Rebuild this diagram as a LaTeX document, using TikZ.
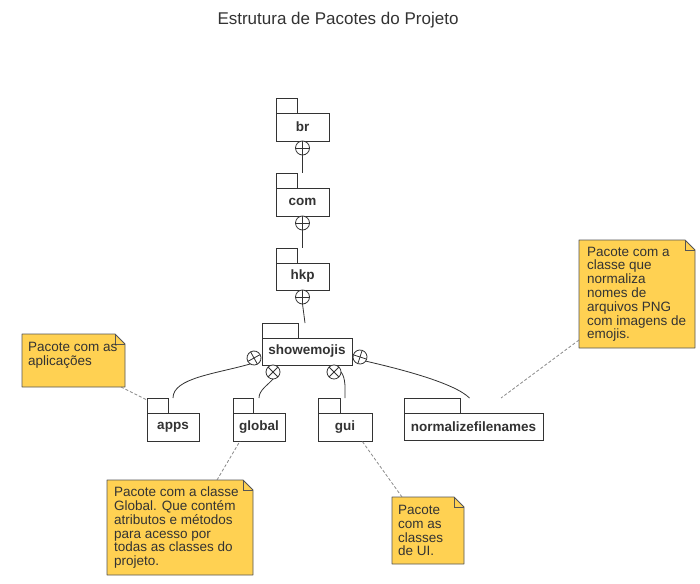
\documentclass[tikz,border=0pt]{standalone}
\usepackage{fontspec}
\setmainfont{Liberation Sans}
\definecolor{pkgc}{HTML}{333333}
\definecolor{txt}{HTML}{333333}
\definecolor{noteY}{HTML}{FFD152}
\definecolor{noteB}{HTML}{555555}
\definecolor{dashc}{HTML}{888888}
\tikzset{
  pkgbody/.style={draw=pkgc, line width=0.8pt, fill=white, inner sep=0pt, outer sep=0pt, text=txt,
    font=\fontsize{13.5}{14}\selectfont\bfseries},
  pkgline/.style={draw=pkgc, line width=0.8pt},
  conn/.style={draw=pkgc, line width=0.8pt},
  circ/.style={circle, draw=pkgc, line width=0.8pt, fill=white, minimum size=14pt, inner sep=0pt, outer sep=0pt},
  notearea/.style={draw=none, inner sep=0pt, outer sep=0pt},
  notebg/.style={fill=noteY, draw=noteB, line width=0.9pt, line join=round},
  notefold/.style={draw=noteB, line width=0.8pt},
  notetext/.style={anchor=north west, inner sep=0pt, align=left, text=txt,
    font=\fontsize{13.5}{13.8}\selectfont},
  notelink/.style={draw=dashc, line width=0.8pt, dash pattern=on 3pt off 2pt},
  titlestyle/.style={text=txt, font=\fontsize{17}{20}\selectfont, inner sep=0pt}
}
\newcommand\mkpkg[7]{%
  \node[pkgbody, minimum width=#4pt, minimum height=#5pt] (#1) at (#2,#3) {#7};
  \draw[pkgline] (#1.north west) -- ([yshift=15pt]#1.north west) -- ([xshift=#6pt, yshift=15pt]#1.north west) -- ([xshift=#6pt]#1.north west);
  \coordinate (#1-top) at ([yshift=15pt]#1.north);
}
\newcommand\mknote[8]{%
  \node[notearea, minimum width=#4pt, minimum height=#5pt, anchor=north west] (#1) at (#2,#3) {};
  \filldraw[notebg] (#1.north west) -- ([xshift=-10pt]#1.north east) -- ([yshift=-10pt]#1.north east)
     -- (#1.south east) -- (#1.south west) -- cycle;
  \draw[notefold] ([xshift=-10pt]#1.north east) -- ([xshift=-10pt,yshift=-10pt]#1.north east)
     -- ([yshift=-10pt]#1.north east);
  \node[notetext] (#1-t) at ([xshift=#6pt, yshift=-#7pt]#1.north west) {#8};
}
\newcommand\mkcirc[3]{% name, position, rotation
  \node[circ, rotate=#3] (#1) at (#2) {};
  \draw[pkgline] (#1.north) -- (#1.south) (#1.east) -- (#1.west);
}
\begin{document}
\begin{tikzpicture}[x=1pt, y=-1pt]
\useasboundingbox (0,0) rectangle (700,583);
\fill[white] (0,0) rectangle (700,583);

\node[titlestyle] (title) at (338,20) {Estrutura de Pacotes do Projeto};

% packages
\mkpkg{br}{302.5}{127}{53}{28}{21}{br}
\mkpkg{com}{302.5}{202}{53}{28}{21}{com}
\mkpkg{hkp}{302.5}{276.5}{53}{27}{21}{hkp}
\mkpkg{sh}{307}{351.5}{90}{27}{36}{showemojis}
\mkpkg{apps}{173}{427}{52}{28}{21}{apps}
\mkpkg{global}{259}{427}{52}{28}{20}{global}
\mkpkg{gui}{345}{427}{54}{28}{22}{gui}
\mkpkg{nf}{473.5}{426.5}{139}{27}{56}{normalizefilenames}

% containment circles
\mkcirc{c1}{[yshift=-7pt]br.south}{0}
\mkcirc{c2}{[yshift=-7pt]com.south}{0}
\mkcirc{c3}{[yshift=-7pt]hkp.south}{0}
\mkcirc{sL}{[xshift=-8pt,yshift=-6.5pt]sh.west}{29}
\mkcirc{sR}{[xshift=8pt,yshift=-5.5pt]sh.east}{-18}
\mkcirc{sLL}{[xshift=11pt,yshift=-7pt]sh.south west}{45}
\mkcirc{sLR}{[xshift=-18pt,yshift=-7pt]sh.south east}{45}

% connectors
\draw[conn] (c1.south) -- (c1.south |- com-top);
\draw[conn] (c2.south) -- (c2.south |- hkp-top);
\draw[conn] (c3.south) -- ([xshift=-2pt]sh-top);
\draw[conn] (sL.209) .. controls +(-35,10) and +(0,-20) .. (apps-top);
\draw[conn] (sLL.225) .. controls +(-5,6) and +(0,-8) .. (global-top);
\draw[conn] (sLR.-45) .. controls +(5,6) and +(0,-8) .. (gui-top);
\draw[conn] (sR.-18) .. controls +(35,8) and +(-15,-15) .. ([xshift=-4pt]nf-top);

% notes
\mknote{n1}{22}{334}{103}{53}{6}{8}{Pacote com as\\aplicações}
\mknote{n2}{579}{240}{116}{108}{8}{6.7}{Pacote com a\\classe que\\normaliza\\nomes de\\arquivos PNG\\com imagens de\\emojis.}
\mknote{n3}{107}{480}{146}{95}{7}{6.7}{Pacote com a classe\\Global. Que contém\\atributos e métodos\\para acesso por\\todas as classes do\\projeto.}
\mknote{n4}{392}{497}{72}{67}{6}{8}{Pacote\\com as\\classes\\de UI.}

% note links
\draw[notelink] ([xshift=-4pt]n1.south east) -- ([yshift=13pt]apps.north west);
\draw[notelink] ([yshift=8pt]n2.south west) -- ([xshift=27.5pt]nf-top);
\draw[notelink] ([xshift=110pt]n3.north west) -- ([xshift=-19pt]global.south);
\draw[notelink] ([xshift=10pt]n4.north west) -- ([xshift=17pt]gui.south);
\end{tikzpicture}
\end{document}
